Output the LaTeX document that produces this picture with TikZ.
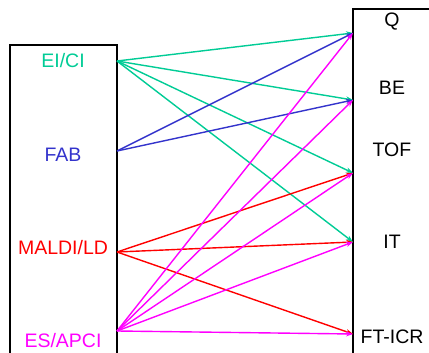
\documentclass[tikz,border=0pt]{standalone}
\usepackage{fontspec}
\setmainfont{Liberation Sans}
\usetikzlibrary{arrows.meta}
\definecolor{cgreen}{RGB}{0,204,150}
\definecolor{cblue}{RGB}{51,51,204}
\definecolor{cred}{RGB}{255,0,0}
\definecolor{cmag}{RGB}{255,0,255}
\begin{document}
\begin{tikzpicture}[x=1pt,y=-1pt,
  lab/.style={font=\fontsize{19.5}{22}\selectfont, inner sep=0pt, anchor=center},
  conn/.style={line width=1.4pt, -{Stealth[length=7pt,width=5pt]}},
  boxline/.style={line width=1.8pt}]
\useasboundingbox (0,0) rectangle (429,353);
\clip (0,0) rectangle (429,353);
\fill[white] (0,0) rectangle (429,353);
% boxes
\draw[boxline] (10,365) -- (10,45) -- (117,45) -- (117,365);
\draw[boxline] (353,365) -- (353,9) -- (440,9);
% labels left
\node[lab, text=cgreen] (eici) at (63,61) {EI/CI};
\node[lab, text=cblue] (fab) at (63,155) {FAB};
\node[lab, text=cred] (maldi) at (63,248) {MALDI/LD};
\node[lab, text=cmag] (esapci) at (63,341) {ES/APCI};
% labels right
\node[lab] (q) at (392,22) {Q};
\node[lab] (be) at (392,88) {BE};
\node[lab] (tof) at (392,150) {TOF};
\node[lab] (it) at (392,242) {IT};
\node[lab] (fticr) at (392,337) {FT-ICR};
% anchor points
\coordinate (s1) at (117,61);
\coordinate (s2) at (117,151);
\coordinate (s3) at (117,252);
\coordinate (s4) at (117,331);
\coordinate (tq) at (353,33);
\coordinate (tbe) at (353,100);
\coordinate (ttof) at (353,173);
\coordinate (tit) at (353,242);
\coordinate (tft) at (353,334);
% connectors
\draw[conn, cgreen] (s1) -- (tq);
\draw[conn, cgreen] (s1) -- (tbe);
\draw[conn, cgreen] (s1) -- (ttof);
\draw[conn, cgreen] (s1) -- (tit);
\draw[conn, cblue] (s2) -- (tq);
\draw[conn, cblue] (s2) -- (tbe);
\draw[conn, cred] (s3) -- (ttof);
\draw[conn, cred] (s3) -- (tit);
\draw[conn, cred] (s3) -- (tft);
\draw[conn, cmag] (s4) -- (tq);
\draw[conn, cmag] (s4) -- (tbe);
\draw[conn, cmag] (s4) -- (ttof);
\draw[conn, cmag] (s4) -- (tit);
\draw[conn, cmag] (s4) -- (tft);
\end{tikzpicture}
\end{document}
